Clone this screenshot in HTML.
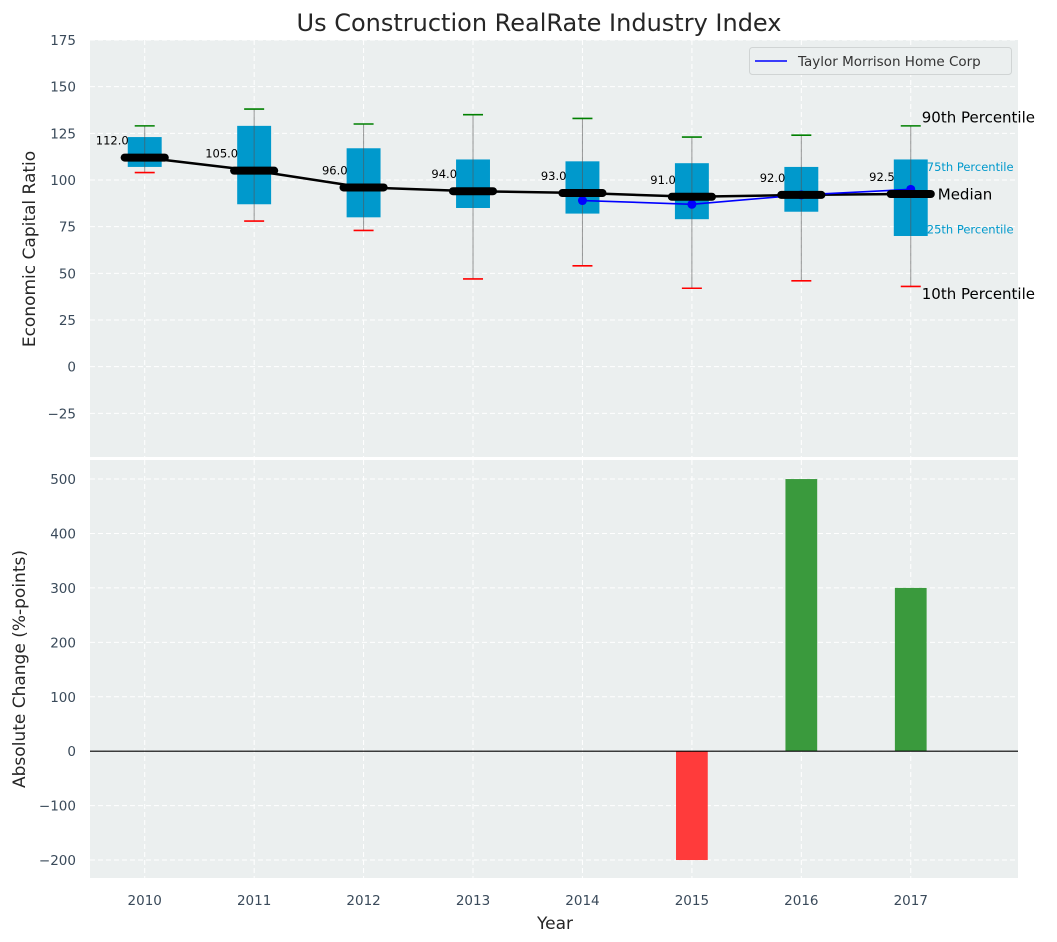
<!DOCTYPE html>
<html><head><meta charset="utf-8"><style>
body{margin:0;background:#fff;}
svg{display:block;font-family:"DejaVu Sans","Liberation Sans",sans-serif;}
</style></head><body>
<svg id="c" width="1057" height="942" xmlns="http://www.w3.org/2000/svg"></svg>
<script>
const years=[2010,2011,2012,2013,2014,2015,2016,2017];
const p10=[104,78,73,47,54,42,46,43];
const p25=[107,87,80,85,82,79,83,70];
const med=[112,105,96,94,93,91,92,92.5];
const p75=[123,129,117,111,110,109,107,111];
const p90=[129,138,130,135,133,123,124,129];
const tmYears=[2014,2015,2016,2017];
const tmVals=[89,87,92,95];
const chgYears=[2015,2016,2017];
const chgVals=[-200,500,300];
const topTicks=[-25,0,25,50,75,100,125,150,175];
const botTicks=[-200,-100,0,100,200,300,400,500];

const NS="http://www.w3.org/2000/svg";
const svg=document.getElementById('c');
function el(t,a,p){const e=document.createElementNS(NS,t);for(const k in a)e.setAttribute(k,a[k]);(p||svg).appendChild(e);return e;}
const L=90,R=1018;
const x=v=>L+(v-2009.5)/(2017.98-2009.5)*(R-L);
const T0=40,T1=457,B0=460,B1=878;
const yt=v=>T0+(175-v)/(175-(-48.4))*(T1-T0);
const yb=v=>B0+(535-v)/(535-(-233))*(B1-B0);

let e=el('rect',{x:L,y:T0,width:R-L,height:T1-T0,fill:'#ebefef'});

e=el('rect',{x:L,y:B0,width:R-L,height:B1-B0,fill:'#ebefef'});


const g=el('g',{stroke:'#fff','stroke-dasharray':'5,3','stroke-width':1});

years.forEach(v=>{el('line',{x1:x(v),x2:x(v),y1:T0,y2:T1},g);el('line',{x1:x(v),x2:x(v),y1:B0,y2:B1},g);});
topTicks.forEach(v=>el('line',{x1:L,x2:R,y1:yt(v),y2:yt(v)},g));
botTicks.forEach(v=>el('line',{x1:L,x2:R,y1:yb(v),y2:yb(v)},g));

topTicks.forEach(v=>{const t=el('text',{x:76,y:yt(v)+5,'text-anchor':'end','font-size':13.5,fill:'#3a4a5a'});t.textContent=v<0?'\u2212'+(-v):v;
});
botTicks.forEach(v=>{const t=el('text',{x:76,y:yb(v)+5,'text-anchor':'end','font-size':13.5,fill:'#3a4a5a'});t.textContent=v<0?'\u2212'+(-v):v;
});
years.forEach(v=>{const t=el('text',{x:x(v),y:905,'text-anchor':'middle','font-size':13.5,fill:'#3a4a5a'});t.textContent=v;
});

const bw=0.155*(x(1)-x(0));
years.forEach((yr,i)=>{
  const cx=x(yr);
  const gg=el('g',{});
  el('rect',{x:cx-bw,y:yt(p75[i]),width:2*bw,height:yt(p25[i])-yt(p75[i]),fill:'#0099cc'},gg);
  el('line',{x1:cx,x2:cx,y1:yt(p90[i]),y2:yt(p10[i]),stroke:'#555','stroke-opacity':0.6,'stroke-width':1},gg);
  el('line',{x1:cx-10,x2:cx+10,y1:yt(p90[i]),y2:yt(p90[i]),stroke:'#008000','stroke-width':1.6},gg);
  el('line',{x1:cx-10,x2:cx+10,y1:yt(p10[i]),y2:yt(p10[i]),stroke:'#ff0000','stroke-width':1.6},gg);
});
let pts=years.map((yr,i)=>x(yr)+','+yt(med[i])).join(' ');
e=el('polyline',{points:pts,fill:'none',stroke:'#000','stroke-width':2.5});

pts=tmYears.map((yr,i)=>x(yr)+','+yt(tmVals[i])).join(' ');
e=el('polyline',{points:pts,fill:'none',stroke:'#0000ff','stroke-width':1.6});

tmYears.forEach((yr,i)=>{const c=el('circle',{cx:x(yr),cy:yt(tmVals[i]),r:4.5,fill:'#0000ff'});
});
const mw=0.22*(x(1)-x(0));
years.forEach((yr,i)=>{
  const cx=x(yr),cy=yt(med[i]);
  const m=el('line',{x1:cx-mw+4,x2:cx+mw-4,y1:cy,y2:cy,stroke:'#000','stroke-width':8,'stroke-linecap':'round'});
  
  const t=el('text',{x:cx-16,y:cy-13,'text-anchor':'end','font-size':11.5,fill:'#000'});t.textContent=med[i].toFixed(1);
  
});
const last=years.length-1,ax=x(years[last]);
function ann(txt,xx,yy,size,col,name){const t=el('text',{x:xx,y:yy,'font-size':size,fill:col,'dominant-baseline':'middle'});t.textContent=txt;
}
ann('90th Percentile',ax+11,yt(p90[last])-8,15,'#000','p90-annotation');
ann('75th Percentile',ax+16,yt(p75[last])+8,11.5,'#0099cc','p75-annotation');
ann('Median',ax+27,yt(med[last])+1,15,'#000','median-annotation');
ann('25th Percentile',ax+16,yt(p25[last])-6,11.5,'#0099cc','p25-annotation');
ann('10th Percentile',ax+11,yt(p10[last])+8,15,'#000','p10-annotation');

const barw=0.145*(x(1)-x(0));
chgYears.forEach((yr,i)=>{const v=chgVals[i];
  const b=el('rect',{x:x(yr)-barw,y:Math.min(yb(v),yb(0)),width:2*barw,height:Math.abs(yb(v)-yb(0)),fill:v<0?'#ff3b3b':'#3a9a3d'});
  });
e=el('line',{x1:L,x2:R,y1:yb(0),y2:yb(0),stroke:'#000','stroke-width':1.2});


const lg=el('g',{});
el('rect',{x:749.5,y:47.5,width:262,height:27,rx:3,fill:'#ebefef',stroke:'#d0d4d4'},lg);
el('line',{x1:755,x2:787,y1:61,y2:61,stroke:'#0000ff','stroke-width':1.6},lg);
let t=el('text',{x:798,y:66,'font-size':13.5,fill:'#333'},lg);t.textContent='Taylor Morrison Home Corp';

t=el('text',{x:539,y:31,'text-anchor':'middle','font-size':24,fill:'#262626'});t.textContent='Us Construction RealRate Industry Index';

t=el('text',{x:555,y:929,'text-anchor':'middle','font-size':17,fill:'#262626'});t.textContent='Year';

t=el('text',{x:0,y:0,'text-anchor':'middle','font-size':17,fill:'#262626',transform:'translate(35,249) rotate(-90)'});t.textContent='Economic Capital Ratio';

t=el('text',{x:0,y:0,'text-anchor':'middle','font-size':17,fill:'#262626',transform:'translate(25,669) rotate(-90)'});t.textContent='Absolute Change (%-points)';

</script>
</body></html>
